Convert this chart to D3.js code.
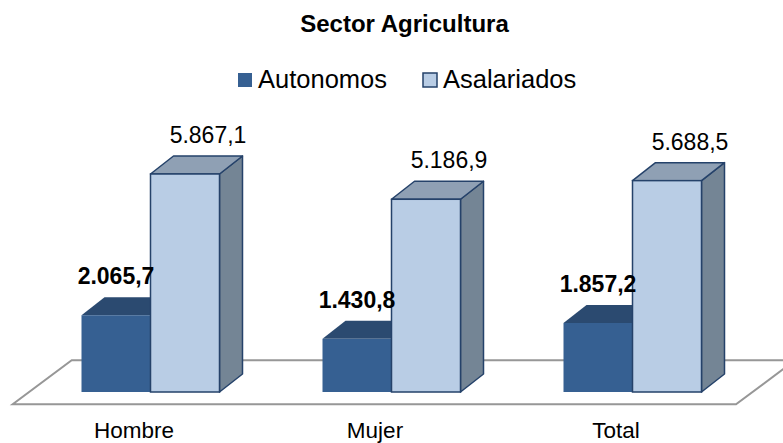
<!DOCTYPE html>
<html>
<head>
<meta charset="utf-8">
<script src="https://cdn.jsdelivr.net/npm/d3@7"></script>
<style>
  html, body { margin: 0; padding: 0; background: #fff; }
  svg { display: block; font-family: Arial, "Liberation Sans", sans-serif; }
</style>
</head>
<body>
<svg id="chart" width="783" height="443"></svg>
<script>
const title = "Sector Agricultura";
const categories = ["Hombre", "Mujer", "Total"];
const seriesNames = ["Autonomos", "Asalariados"];
const autonomos = [2065.7, 1430.8, 1857.2];
const asalariados = [5867.1, 5186.9, 5688.5];
const autonomosLabels = ["2.065,7", "1.430,8", "1.857,2"];
const asalariadosLabels = ["5.867,1", "5.186,9", "5.688,5"];

const svg = d3.select("#chart");

const colors = {
  Autonomos: { front: "#366092", top: "#2b4a70", side: "#2b4a70", stroke: "none" },
  Asalariados: { front: "#b9cde5", top: "#8fa0b4", side: "#748595", stroke: "#25426a" }
};

const y = d3.scaleLinear().domain([0, 7000]).range([392, 131.9]);
const x0 = d3.scaleBand().domain(categories).range([30, 753]).padding(0);
const x1 = d3.scaleBand().domain(seriesNames).range([0, 138]).padding(0);
const bw = x0.bandwidth();
const groupOffset = (bw - 138) / 2;

const depthX = 23, depthY = 18;
const floorDX = 59, floorDY = 44;

// Floor
const fy = y(0) + 12.3;
const fx0 = x0.range()[0] - 17.3, fx1 = x0.range()[1] - 17;
svg.append("path")
  .attr("d", `M${fx0},${fy} L${fx1},${fy} L${fx1 + floorDX},${fy - floorDY} L${fx0 + floorDX},${fy - floorDY} Z`)
  .attr("fill", "#fff")
  .attr("stroke", "#979797")
  .attr("stroke-width", 2);

// Title
svg.append("text")
  .attr("x", 404.5).attr("y", 32)
  .attr("text-anchor", "middle")
  .attr("font-weight", "bold")
  .attr("font-size", 24)
  .attr("fill", "#000")
  .text(title);

// Legend
const legendX = [238, 423];
seriesNames.forEach((s, i) => {
  const g = svg.append("g");
  g.append("rect")
    .attr("x", legendX[i]).attr("y", 73)
    .attr("width", 14).attr("height", 14)
    .attr("fill", colors[s].front)
    .attr("stroke", colors[s].stroke)
    .attr("stroke-width", 1.5);
  g.append("text")
    .attr("x", legendX[i] + 20).attr("y", 88)
    .attr("font-size", 25.5)
    .attr("fill", "#000")
    .text(s);
});

// Bars
function drawBar(g, xl, val, c) {
  const w = x1.bandwidth();
  const yt = y(val), yb = y(0);
  g.append("path")
    .attr("d", `M${xl + w},${yt} L${xl + w + depthX},${yt - depthY} L${xl + w + depthX},${yb - depthY} L${xl + w},${yb} Z`)
    .attr("fill", c.side).attr("stroke", c.stroke).attr("stroke-width", 1.5).attr("stroke-linejoin", "round");
  g.append("path")
    .attr("d", `M${xl},${yt} L${xl + depthX},${yt - depthY} L${xl + w + depthX},${yt - depthY} L${xl + w},${yt} Z`)
    .attr("fill", c.top).attr("stroke", c.stroke).attr("stroke-width", 1.5).attr("stroke-linejoin", "round");
  g.append("rect")
    .attr("x", xl).attr("y", yt)
    .attr("width", w).attr("height", yb - yt)
    .attr("fill", c.front).attr("stroke", c.stroke).attr("stroke-width", 1.5);
}

const seriesData = { Autonomos: autonomos, Asalariados: asalariados };
categories.forEach((cat, i) => {
  const g = svg.append("g");
  seriesNames.forEach(s => {
    const xl = x0(cat) + groupOffset + x1(s);
    drawBar(g, xl, seriesData[s][i], colors[s]);
  });
});

// Value labels
categories.forEach((cat, i) => {
  const w = x1.bandwidth();
  const xa = x0(cat) + groupOffset + x1("Autonomos") + w / 2;
  svg.append("text")
    .attr("x", xa).attr("y", y(autonomos[i]) - depthY - 13)
    .attr("text-anchor", "middle")
    .attr("font-weight", "bold")
    .attr("font-size", 23)
    .attr("fill", "#000")
    .text(autonomosLabels[i]);
  const xs = x0(cat) + groupOffset + x1("Asalariados") + w / 2 + depthX;
  svg.append("text")
    .attr("x", xs).attr("y", y(asalariados[i]) - depthY - 13)
    .attr("text-anchor", "middle")
    .attr("font-size", 23)
    .attr("fill", "#000")
    .text(asalariadosLabels[i]);
});

// Category labels
categories.forEach(cat => {
  svg.append("text")
    .attr("x", x0(cat) + bw / 2 - 16.5).attr("y", 438)
    .attr("text-anchor", "middle")
    .attr("font-size", 22.5)
    .attr("fill", "#000")
    .text(cat);
});
</script>
</body>
</html>
